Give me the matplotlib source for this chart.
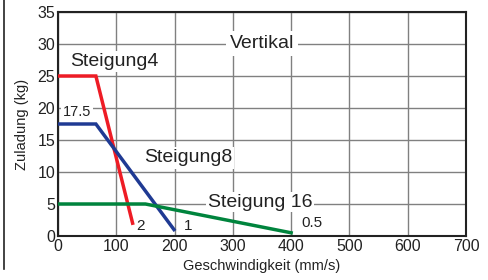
import matplotlib
matplotlib.use("Agg")
import matplotlib.pyplot as plt
from matplotlib.lines import Line2D

plt.rcParams['font.family'] = ['Liberation Sans', 'DejaVu Sans']

# data
s4_x = [0, 65, 128]
s4_y = [25, 25, 2]
s8_x = [0, 65, 199]
s8_y = [17.5, 17.5, 1]
s16_x = [0, 150, 400]
s16_y = [5, 5, 0.5]
xticks = [0, 100, 200, 300, 400, 500, 600, 700]
yticks = [0, 5, 10, 15, 20, 25, 30, 35]

fig = plt.figure(figsize=(4.88, 2.8), dpi=100)
ax = fig.add_axes([58/488, 1-236/280, (466-58)/488, (236-12)/280])

ax.plot(s4_x, s4_y, color='#ee1c25', lw=2.5, zorder=3, solid_joinstyle='miter')
ax.plot(s8_x, s8_y, color='#1f3a93', lw=2.5, zorder=3, solid_joinstyle='miter')
ax.plot(s16_x, s16_y, color='#00843d', lw=2.5, zorder=3, solid_joinstyle='miter')

ax.set_xlim(0, 700)
ax.set_ylim(0, 35)
ax.set_xticks(xticks)
ax.set_yticks(yticks)
ax.tick_params(length=0, labelsize=11.5, pad=2, colors='#222222')
ax.grid(True, color='#808080', lw=1)
ax.set_axisbelow(True)
for s in ax.spines.values():
    s.set_color('#222222')
    s.set_linewidth(1.5)

ax.set_xlabel('Geschwindigkeit (mm/s)', fontsize=10.5, labelpad=4, color='#222222')
ax.set_ylabel('Zuladung (kg)', fontsize=10.5, labelpad=6, color='#222222')

wb = dict(facecolor='white', edgecolor='none', pad=1.5)
ax.text(20, 27.3, 'Steigung4', fontsize=14, color='#222222', bbox=wb, va='center', zorder=4)
ax.text(8, 19.3, '17.5', fontsize=10.5, color='#222222', bbox=wb, va='center', zorder=4)
ax.text(147, 12.2, 'Steigung8', fontsize=14, color='#222222', bbox=wb, va='center', zorder=4)
ax.text(257, 5.3, 'Steigung 16', fontsize=14, color='#222222', va='center', zorder=2,
        bbox=dict(facecolor='white', edgecolor='none', pad=1.0))
ax.text(295, 30.1, 'Vertikal', fontsize=14, color='#222222',
        bbox=dict(facecolor='white', edgecolor='none', pad=3), va='center', zorder=4)
ax.text(135, 1.6, '2', fontsize=11, color='#222222', va='center', zorder=4)
ax.text(216, 1.6, '1', fontsize=11, color='#222222', va='center', zorder=4)
ax.text(417, 2.1, '0.5', fontsize=11, color='#222222', va='center', zorder=4)

fig.add_artist(Line2D([4/488, 4/488], [1-0/280, 1-269/280], color='#222222', lw=1.2))

fig.savefig('out.png', dpi=100)
